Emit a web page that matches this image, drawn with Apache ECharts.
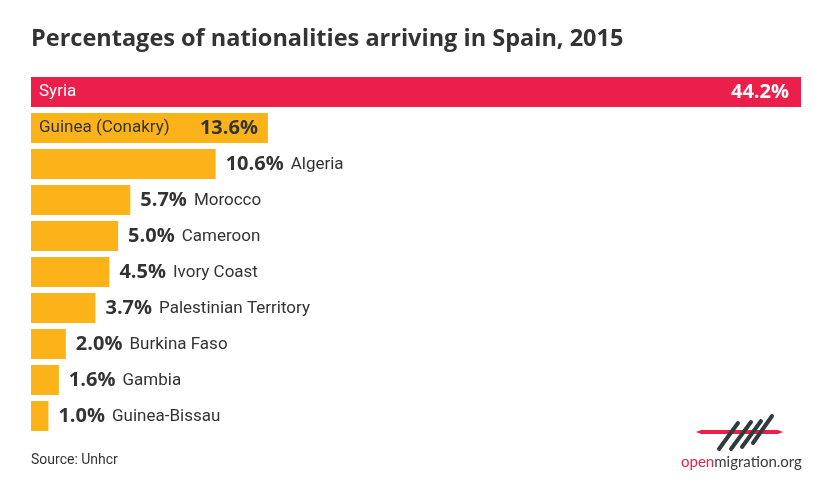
<!DOCTYPE html>
<html>
<head>
<meta charset="utf-8">
<script src="https://cdn.jsdelivr.net/npm/echarts@6/dist/echarts.min.js"></script>
<style>html,body{margin:0;padding:0;background:#fff}#c{width:830px;height:495px}</style>
</head>
<body>
<div id="c"></div>
<script>
var categories = ['Syria','Guinea (Conakry)','Algeria','Morocco','Cameroon','Ivory Coast','Palestinian Territory','Burkina Faso','Gambia','Guinea-Bissau'];
var values = [44.2,13.6,10.6,5.7,5.0,4.5,3.7,2.0,1.6,1.0];
var titleText = 'Percentages of nationalities arriving in Spain, 2015';
var sourceText = 'Source: Unhcr';

var RED = '#EC1F4A', YEL = '#FBB319', DARK = '#333333';
var pctFont = {fontFamily:'Open Sans', fontWeight:'bold', fontSize:20, color:DARK, padding:[0,7,0,0]};
var nameFont = {fontFamily:'Roboto', fontSize:17, color:DARK, padding:[2,0,0,0]};
function pct(v){return v.toFixed(1)+'%';}

var mainData = values.map(function(v,i){
  var item = {value:v, itemStyle:{color: i===0 ? RED : YEL}};
  if(i===0){
    item.label = {show:true, position:'insideLeft', distance:8, padding:[4,0,0,0], formatter:categories[i], fontFamily:'Roboto', fontSize:17, color:'#fff'};
  } else if(i===1){
    item.label = {show:true, position:'insideLeft', distance:8, padding:[4,0,0,0], formatter:categories[i], fontFamily:'Roboto', fontSize:17, color:DARK};
  } else {
    item.label = {show:true, position:'right', distance:10,
      formatter:'{p|'+pct(v)+'}{n|'+categories[i]+'}',
      rich:{p:pctFont, n:nameFont}};
  }
  return item;
});
var overlayData = values.map(function(v,i){
  var item = {value:v};
  if(i<2){
    item.label = {show:true, position:'insideRight', distance:i===0?12:10, formatter:pct(v),
      fontFamily:'Open Sans', fontWeight:'bold', fontSize:20, color: i===0 ? '#fff' : DARK};
  }
  return item;
});

var chart = echarts.init(document.getElementById('c'), null, {renderer:'canvas'});
chart.setOption({
  backgroundColor:'#fff',
  animation:false,
  title:{text:titleText, left:26, top:22, textStyle:{fontFamily:'Open Sans', fontWeight:'bold', fontSize:23.5, color:DARK}},
  grid:{left:31, top:74, width:770, height:360},
  xAxis:{type:'value', min:0, max:44.2, show:false},
  yAxis:{type:'category', data:categories, inverse:true, show:false},
  series:[
    {type:'bar', data:mainData, barWidth:30, silent:true},
    {type:'bar', data:overlayData, barWidth:30, barGap:'-100%', itemStyle:{color:'rgba(0,0,0,0)'}, silent:true}
  ],
  graphic:[
    {type:'text', left:31, top:453, style:{text:sourceText, fontFamily:'Roboto', fontSize:14, fill:DARK}},
    {type:'polygon', shape:{points:[[696,432],[701,430],[778,430],[783,432],[778,434],[701,434]]}, style:{fill:RED}},
    {type:'line', shape:{x1:719,y1:449,x2:738,y2:423}, style:{stroke:'#2f3b3c', lineWidth:4, lineCap:'round'}},
    {type:'line', shape:{x1:731,y1:449,x2:751,y2:422}, style:{stroke:'#2f3b3c', lineWidth:4, lineCap:'round'}},
    {type:'line', shape:{x1:742,y1:447,x2:761,y2:421}, style:{stroke:'#2f3b3c', lineWidth:4, lineCap:'round'}},
    {type:'line', shape:{x1:753,y1:443,x2:772,y2:416}, style:{stroke:'#2f3b3c', lineWidth:4, lineCap:'round'}},
    {type:'text', left:681, top:455, style:{rich:{a:{fontFamily:'Lato', fontSize:15, fill:RED},b:{fontFamily:'Lato', fontSize:15, fill:'#3a3a3a'}}, text:'{a|open}{b|migration.org}'}}
  ]
});
</script>
</body>
</html>
